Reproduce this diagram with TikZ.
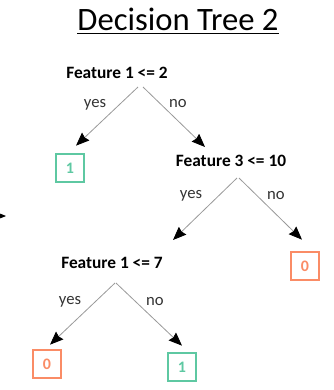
\documentclass[tikz,border=0pt]{standalone}
\usepackage{fontspec}
\setmainfont{Carlito}
\usepackage{tikz}
\usetikzlibrary{arrows.meta}

\definecolor{leafgreen}{RGB}{94,200,162}
\definecolor{leaforange}{RGB}{250,140,102}

\tikzset{
  split/.style={font=\fontsize{13}{15}\selectfont\bfseries, inner sep=0pt},
  lbl/.style={font=\fontsize{12.5}{14}\selectfont, text=black!80, inner sep=0pt},
  leafbox/.style={draw=#1, text=#1, line width=1.5pt, minimum size=21.5pt, inner sep=0pt,
    font=\fontsize{12}{14}\selectfont\bfseries},
  edge/.style={draw=black!40, line width=0.6pt, -{Stealth[black,inset=1pt,length=10pt,width=8pt]}}
}

\begin{document}
\begin{tikzpicture}[x=0.75pt,y=0.75pt,yscale=-1]
	\useasboundingbox (0,0) rectangle (334,390);
	
	\node (title) at (178,21) {\fontsize{24.5}{28}\selectfont\underline{Decision Tree 2}};
	
	\node[split] (root) at (117,73) {Feature 1 <= 2};
	\node[leafbox=leafgreen] (leafA) at (70,168) {1};
	\node[split] (split3) at (231,161) {Feature 3 <= 10};
	\node[leafbox=leaforange] (leafB) at (305,266) {0};
	\node[split] (split1b) at (112,263) {Feature 1 <= 7};
	\node[leafbox=leaforange] (leafC) at (47,364) {0};
	\node[leafbox=leafgreen] (leafD) at (182,367) {1};
	
	\node[lbl] (yesA) at (95,105) {yes};
	\node[lbl] (noA) at (178,104) {no};
	\node[lbl] (yesB) at (191,196) {yes};
	\node[lbl] (noB) at (276,196) {no};
	\node[lbl] (yesC) at (70,302) {yes};
	\node[lbl] (noC) at (155,302) {no};
	
	\draw[edge] ([shift={(21,14)}]root.center) -- ([shift={(6,-7)}]leafA.north);
	\draw[edge] ([shift={(26,14)}]root.center) -- ([shift={(-26,-8)}]split3.north);
	\draw[edge] ([shift={(6,17)}]split3.center) -- ([shift={(61,-23)}]split1b.center);
	\draw[edge] ([shift={(8,17)}]split3.center) -- ([shift={(-3,-11)}]leafB.north);
	\draw[edge] ([shift={(3,20)}]split1b.center) -- ([shift={(3,-4)}]leafC.north);
	\draw[edge] ([shift={(4,20)}]split1b.center) -- ([shift={(0,-6)}]leafD.north);
	
	% cut-off arrow at the left border
	\coordinate (cuttail) at (-30,216);
	\coordinate (cuttip) at (6,216);
	\draw[-{Stealth[inset=1pt,length=10pt,width=8pt]}, line width=0.6pt] (cuttail) -- (cuttip);
	
\end{tikzpicture}
\end{document}
